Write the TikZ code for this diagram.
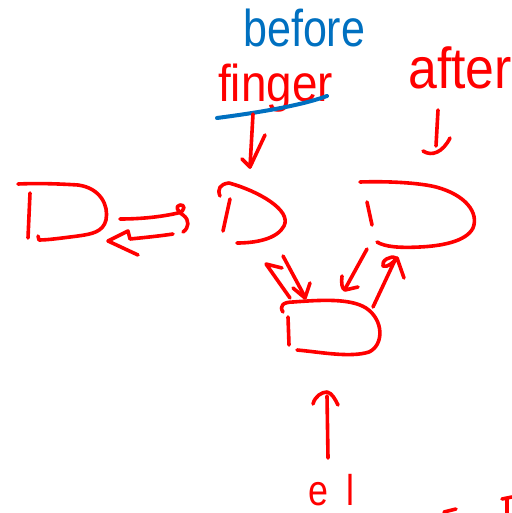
\documentclass[tikz,border=0pt]{standalone}
\usepackage{fontspec}
\setmainfont{Liberation Sans}
\definecolor{ink}{RGB}{255,0,0}
\definecolor{pen}{RGB}{0,112,192}
\begin{document}
\begin{tikzpicture}[x=1bp,y=-1bp,
  stroke/.style={draw=ink,line width=3.6bp,line cap=round,line join=round},
  bluestroke/.style={draw=pen,line width=4bp,line cap=round,line join=round},
  word/.style={inner sep=0pt,anchor=base west,font=\fontsize{40}{40}\selectfont}]
\useasboundingbox (0,0) rectangle (512,513);

% labels
\node[word,text=pen,xscale=1.08,yscale=1.3] (before) at (243,47) {before};
\node[word,text=ink,xscale=1.15,yscale=1.3] (finger) at (218,102) {finger};
\node[word,text=ink,xscale=1.3,yscale=1.45] (after) at (408,89) {after};
\node[word,text=ink,font=\fontsize{36}{36}\selectfont,yscale=1.2] (el) at (308,505) {e\hspace{18bp}l};

% strike-through under "finger"
\path[bluestroke] (217,118) .. controls (255,113) and (300,106) .. (327,96);

% pointers below the labels
\path[stroke] (253,114) -- (250,167);
\path[stroke] (242,159) -- (250,167) -- (265,135);
\path[stroke] (438,110) -- (436,146);
\path[stroke] (423,151) .. controls (432,157) and (443,152) .. (450,138);

% gate D1
\path[stroke] (18,184) .. controls (40,183) and (62,184) .. (78,185)
  .. controls (100,188) and (109,205) .. (106,220)
  .. controls (103,232) and (92,234) .. (78,236)
  .. controls (62,238) and (48,240) .. (39,240) -- (38,236);
\path[stroke] (30,193) -- (28,238);

% gate D2
\path[stroke] (220,196) .. controls (217,189) and (220,184) .. (229,183)
  .. controls (258,191) and (292,210) .. (284,226)
  .. controls (277,239) and (256,243) .. (237,243);
\path[stroke] (230,199) -- (223,231);

% gate D3
\path[stroke] (360,182) .. controls (390,181) and (420,183) .. (436,187)
  .. controls (466,195) and (479,213) .. (473,228)
  .. controls (466,242) and (440,246) .. (420,247)
  .. controls (400,248) and (385,247) .. (377,242);
\path[stroke] (367,202) -- (372,225);

% gate D4
\path[stroke] (283,312) .. controls (279,306) and (283,302) .. (293,302)
  .. controls (320,300) and (350,298) .. (366,308)
  .. controls (384,320) and (384,345) .. (369,352)
  .. controls (350,358) and (320,352) .. (297,350);
\path[stroke] (288,317) -- (289,345);

% D1 <-> D2
\path[stroke] (120,219) .. controls (145,219) and (165,216) .. (178,213)
  .. controls (186,211) and (185,204) .. (180,205)
  .. controls (175,206) and (177,211) .. (183,215)
  .. controls (190,220) and (189,228) .. (183,232);
\path[stroke] (173,234) .. controls (160,236) and (140,238) .. (130,239)
  -- (128,231) -- (108,241) -- (138,255);

% D2 <-> D4
\path[stroke] (283,256) -- (305,297);
\path[stroke] (293,288) -- (305,298) -- (310,283);
\path[stroke] (290,298) -- (266,264) -- (282,268);

% D3 <-> D4
\path[stroke] (367,249) -- (345,289);
\path[stroke] (342,276) .. controls (341,283) and (342,289) .. (345,290) -- (358,287);
\path[stroke] (373,307) -- (396,258)
  .. controls (390,255) and (381,261) .. (383,266)
  .. controls (387,268) and (394,262) .. (397,258) -- (404,278);

% input arrow from below
\path[stroke] (328,458) -- (327,396);
\path[stroke] (313,404) .. controls (315,396) and (322,392) .. (327,392)
  .. controls (332,393) and (335,399) .. (338,405);

% strokes running off the lower edge
\path[stroke] (444,512) -- (456,509);
\path[stroke] (502,499) -- (512,497);
\path[stroke] (507,499) -- (507,513);
\end{tikzpicture}
\end{document}
